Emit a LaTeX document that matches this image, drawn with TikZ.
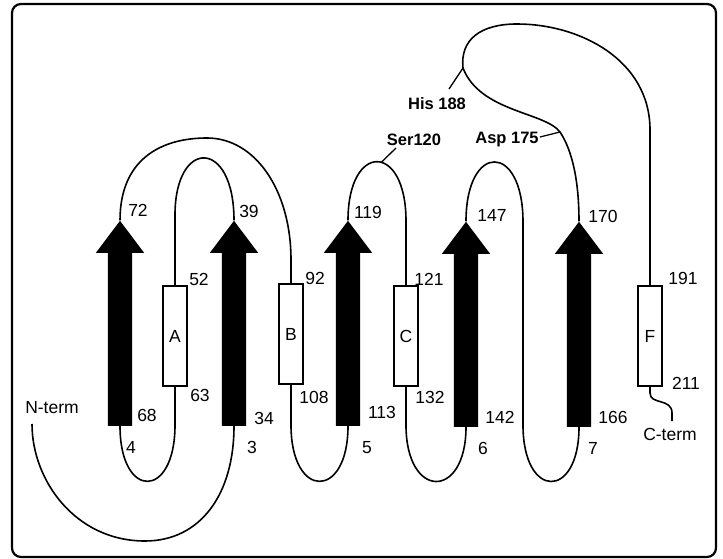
\documentclass[tikz,border=0pt]{standalone}
\usepackage{fontspec}
\setmainfont{Liberation Sans}
\usetikzlibrary{shapes.arrows}

\tikzstyle{strand} = [single arrow, fill=black, draw=none, inner xsep=0pt, inner ysep=12pt, minimum width=48pt, minimum height=205pt, single arrow head extend=12pt, single arrow tip angle=74, rotate=90, anchor=tail]
\tikzstyle{helix} = [rectangle, draw, line width=1.3pt, fill=white, inner sep=0pt, minimum width=24pt, minimum height=100pt, font=\fontsize{17.5}{19}\selectfont]
\tikzstyle{num} = [inner sep=0pt, font=\fontsize{17.5}{19}\selectfont]
\tikzstyle{res} = [inner sep=0pt, font=\fontsize{16.5}{18}\selectfont\bfseries]
\tikzstyle{chain} = [line width=1.6pt]
\tikzstyle{tick} = [line width=1.3pt]

\begin{document}
\begin{tikzpicture}[x=1pt,y=-1pt]
		\useasboundingbox (0,0) rectangle (723,559);
		\draw[line width=2.2pt, rounded corners=9pt] (12,4) rectangle (716,557);

		\node[strand] (s1) at (120,426) {};
		\node[strand] (s2) at (234,426) {};
		\node[strand] (s3) at (348,426) {};
		\node[strand] (s4) at (466,427) {};
		\node[strand] (s5) at (579,427) {};

		\node[helix] (hA) at (175,336) {A};
		\node[helix] (hB) at (291,334) {B};
		\node[helix] (hC) at (406,336) {C};
		\node[helix] (hF) at (650,336) {F};

		\coordinate (nstart) at (32,424);
		\coordinate (cend) at (672,421);
		\coordinate (histick) at (449,89);
		\coordinate (asptick) at (540,137);
		\coordinate (sertick) at (396,148);

		\draw[chain] (nstart) .. controls (32,480) and (75,541) .. (145,541) .. controls (200,541) and (234,495) .. (s2.tail);
		\draw[chain] (s2.tip) .. controls (234,138) and (175,138) .. (175,215) -- (hA.north);
		\draw[chain] (hA.south) -- (175,425) .. controls (175,500) and (120,500) .. (s1.tail);
		\draw[chain] (s1.tip) .. controls (120,160) and (160,138) .. (207,138) .. controls (255,138) and (291,190) .. (291,260) -- (hB.north);
		\draw[chain] (hB.south) -- (291,425) .. controls (291,500) and (348,500) .. (s3.tail);
		\draw[chain] (s3.tip) .. controls (348,142) and (406,142) .. coordinate[pos=0.55] (serjoin) (406,221) -- (hC.north);
		\draw[chain] (hC.south) -- (406,425) .. controls (406,500) and (466,500) .. (s4.tail);
		\draw[chain] (s4.tip) .. controls (466,142) and (523,142) .. (523,222) -- (523,425) .. controls (523,500) and (579,500) .. (s5.tail);
		\draw[chain] (s5.tip) .. controls (579,180) and (572,150) .. (560,132) coordinate (aspjoin)
			.. controls (545,112) and (480,112) .. (463,68) coordinate (hisjoin)
			.. controls (460,40) and (480,24) .. (517,24)
			.. controls (580,24) and (650,60) .. (650,130) -- (hF.north);
		\draw[chain] (hF.south) -- (650,393) .. controls (650,405) and (672,398) .. (672,413) -- (cend);

		\draw[tick] (hisjoin) -- (histick);
		\draw[tick] (aspjoin) -- (asptick);
		\draw[tick] (serjoin) -- (sertick);

		\node[res] (his) at (437,104) {His 188};
		\node[res] (ser) at (414,140) {Ser120};
		\node[res] (asp) at (507,140) {Asp 175};

		\node[num] (n72) at (138,210) {72};
		\node[num] (n39) at (249,211) {39};
		\node[num] (n119) at (368,212) {119};
		\node[num] (n147) at (492,215) {147};
		\node[num] (n170) at (603,216) {170};
		\node[num] (n52) at (199,279) {52};
		\node[num] (n92) at (315,278) {92};
		\node[num] (n121) at (429,279) {121};
		\node[num] (n191) at (683,278) {191};
		\node[num] (n63) at (200,395) {63};
		\node[num] (n108) at (314,397) {108};
		\node[num] (n132) at (430,397) {132};
		\node[num] (n211) at (686,383) {211};
		\node[num] (n68) at (147,415) {68};
		\node[num] (n34) at (264,418) {34};
		\node[num] (n113) at (382,412) {113};
		\node[num] (n142) at (500,417) {142};
		\node[num] (n166) at (613,417) {166};
		\node[num] (l4) at (131,447) {4};
		\node[num] (l3) at (252,447) {3};
		\node[num] (l5) at (367,448) {5};
		\node[num] (l6) at (483,448) {6};
		\node[num] (l7) at (593,448) {7};
		\node[num] (nterm) at (52,408) {N-term};
		\node[num] (cterm) at (670,434) {C-term};
\end{tikzpicture}
\end{document}
